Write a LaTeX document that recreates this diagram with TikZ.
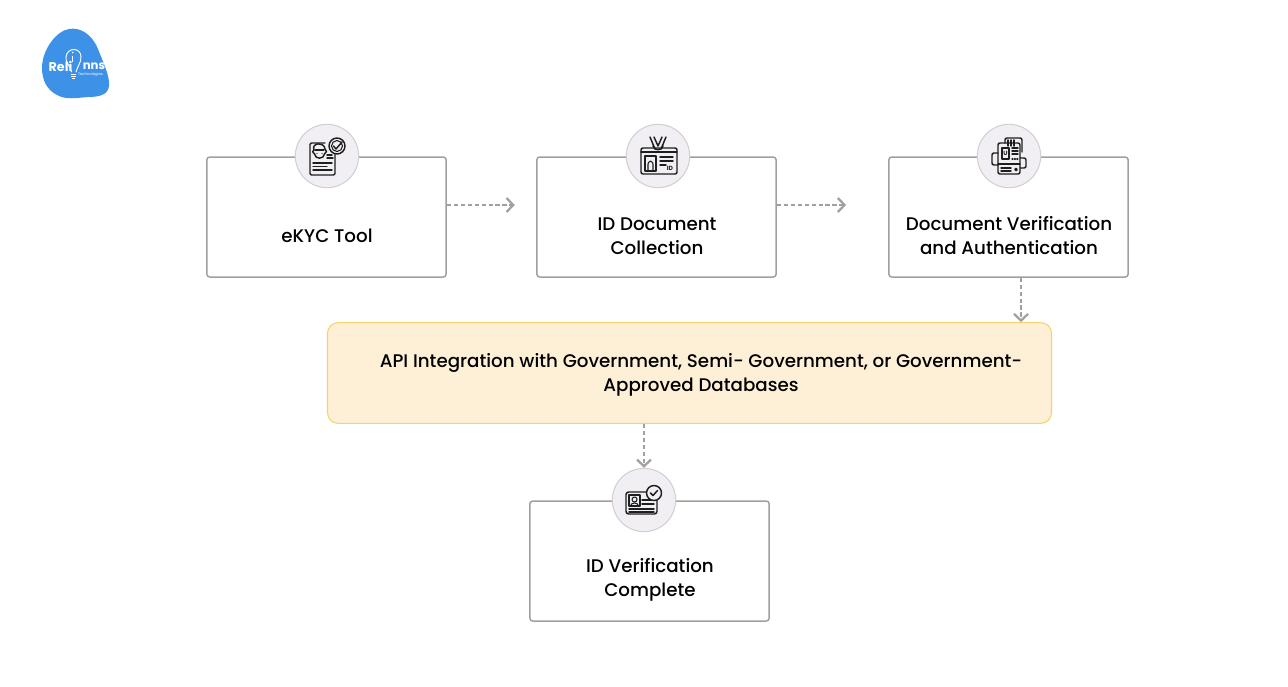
\documentclass[tikz,border=0pt]{standalone}
\usepackage{fontspec}
\setmainfont{Poppins Medium}
\newfontfamily\logofont{Poppins}
\usetikzlibrary{arrows.meta}
\definecolor{edge}{HTML}{A0A0A0}
\definecolor{ink}{HTML}{1E1E1E}
\definecolor{discfill}{HTML}{F1EFF3}
\definecolor{discline}{HTML}{D2D0D4}
\definecolor{apifill}{HTML}{FEF0D7}
\definecolor{apiline}{HTML}{F3D46A}
\definecolor{logoblue}{HTML}{3D92E8}
\tikzset{
 x=0.75pt,y=-0.75pt,
 stepbox/.style={draw=edge,line width=1.5pt*0.75,rounded corners=2.2pt,fill=white,minimum width=179.5pt,minimum height=90pt,inner sep=0pt},
 apibox/.style={draw=apiline,line width=0.8pt,rounded corners=8pt,fill=apifill,minimum width=543pt,minimum height=75.5pt,inner sep=0pt},
 disc/.style={circle,draw=discline,line width=0.8pt,fill=discfill,minimum size=47.5pt,inner sep=0pt},
 lbl/.style={align=center,font=\fontsize{13.7pt}{18pt}\selectfont,text=black,inner sep=0pt},
 flow/.style={draw=edge,line width=1.4pt,dash pattern=on 3.2pt off 2pt,-{Straight Barb[length=5pt,width=10.5pt,line width=1.7pt]}},
 ic/.style={draw=ink,line width=0.8pt,line cap=round,line join=round},
 icb/.style={draw=ink,line width=1.1pt,line cap=round,line join=round},
}
\begin{document}
\begin{tikzpicture}
\useasboundingbox (0,0) rectangle (1288,686);
% logo
\fill[logoblue] (69,29) .. controls (80,27) and (92,34) .. (98,49)
  .. controls (103,62) and (110,76) .. (109,86)
  .. controls (108,95) and (99,97) .. (88,97)
  .. controls (76,98) and (66,100) .. (57,95)
  .. controls (47,90) and (42,80) .. (42,68)
  .. controls (42,50) and (56,31) .. (69,29) -- cycle;
\node[text=white,font=\logofont\bfseries\fontsize{9.5pt}{10pt}\selectfont,inner sep=0pt] (lg1) at (60.5,66.5) {Reli};
\node[text=white,font=\logofont\bfseries\fontsize{8.8pt}{10pt}\selectfont,inner sep=0pt] (lg2) at (94,66.3) {nns};
\node[text=white,font=\logofont\fontsize{2.8pt}{3pt}\selectfont,inner sep=0pt] (lg3) at (90.5,75) {Technologies};
\draw[white,line width=0.7pt,line cap=round] (71.5,72) .. controls (71,66) and (65,63) .. (66,57) .. controls (67,47) and (81,47) .. (81,57) .. controls (81,63) and (78,65) .. (76,72);
\draw[white,line width=0.8pt] (71,74.5) -- (76,74.5) (71,76.5) -- (76,76.5) (72,78.5) -- (75,78.5);
\fill[white] (72.8,52.5) circle (0.9);
\draw[white,line width=0.8pt] (72.8,55.5) -- (72.8,62);
% boxes
\node[stepbox] (b1) at (326.5,217) {};
\node[stepbox] (b2) at (656.5,217) {};
\node[stepbox] (b3) at (1008.5,217) {};
\node[apibox] (api) at (689.5,373) {};
\node[stepbox] (b4) at (649.5,561) {};
% labels
\node[lbl] (t1) at (327,236) {eKYC Tool};
\node[lbl] (t2) at (657,236) {ID Document\\Collection};
\node[lbl] (t3) at (1009,236) {Document Verification\\and Authentication};
\node[lbl] (t4) at (701,375) {API Integration with Government, Semi- Government, or Government-\\Approved Databases};
\node[lbl] (t5) at (650,580) {ID Verification\\Complete};
% discs
\node[disc] (c1) at (327,156) {};
\node[disc] (c2) at (658,156) {};
\node[disc] (c3) at (1009,156) {};
\node[disc] (c4) at (644,500) {};
% connectors
\draw[flow,shorten >=16pt] ([yshift=9pt]b1.east) -- ([yshift=9pt]b2.west);
\draw[flow] ([yshift=9pt]b2.east) -- ([xshift=-31.5pt,yshift=9pt]b3.west);
\draw[flow] ([xshift=9.4pt]b3.south) -- ([xshift=9.4pt]b3.south |- api.north);
\draw[flow] (c4.north |- api.south) -- (c4.north);
% icon 1: eKYC
\begin{scope}[shift={(327,156)}]
 \draw[icb,rounded corners=1pt] (-2,-13) -- (-17,-13) -- (-17,19) -- (8,19) -- (8,-3);
 \draw[icb,fill=discfill] (-13,-6) .. controls (-16,-13) and (-3,-15) .. (-2,-7) .. controls (0,-6) and (0,-3) .. (-2.5,-2) .. controls (-3,3.5) and (-12,3.5) .. (-12.5,-2) .. controls (-15,-3) and (-15,-6) .. (-13,-6) -- cycle;
 \draw[ic] (-12,-6) -- (-3,-6);
 \fill[ink] (-10,-2.5) circle (0.7) (-5,-2.5) circle (0.7);
 \draw[icb] (0,2) -- (6,2) (0,-1) -- (5,-1);
 \draw[icb] (-14,7) -- (5,7) (-14,10.5) -- (0,10.5) (-14,14) -- (5,14);
 \draw[icb,fill=discfill] (10,-10) circle (8);
 \draw[ic] (10,-10) circle (5.5);
 \draw[icb] (6.5,-10) -- (9,-7) -- (15,-14);
\end{scope}
% icon 2: badge
\begin{scope}[shift={(658,156)}]
 \draw[icb,rounded corners=1.5pt] (-17,-8) rectangle (19,18);
 \draw[icb] (-17,-4) -- (19,-4);
 \draw[icb] (-8,-19) -- (-3,-7) (8,-19) -- (3,-7) (-4,-19) -- (0,-10) -- (4,-19);
 \draw[icb] (-5,-10) .. controls (-4,-5) and (4,-5) .. (5,-10);
 \draw[icb] (-13,0) rectangle (-2,15);
 \draw[ic] (-10,15) -- (-10,11) .. controls (-11,3) and (-4,3) .. (-5,11) -- (-5,15);
 \draw[icb] (2,1) -- (15,1) (2,5) -- (15,5) (2,9) -- (8,9);
 \node[font=\logofont\bfseries\fontsize{4.5pt}{5pt}\selectfont,text=ink,inner sep=0pt] (idt) at (12,12.5) {ID};
\end{scope}
% icon 3: documents
\begin{scope}[shift={(1009,156)}]
 \draw[icb,rounded corners=1.5pt] (-4,-13) -- (-4,-18) -- (13,-18) -- (13,-4);
 \draw[icb,rounded corners=1.5pt] (-11,-13) rectangle (11,18);
 \draw[icb] (-11,8) -- (11,8);
 \draw[icb] (-7,-8) rectangle (0,3);
 \node[font=\logofont\bfseries\fontsize{4.5pt}{5pt}\selectfont,text=ink,inner sep=0pt] (udt) at (-3.5,-2.5) {U};
 \draw[icb] (3,-8) -- (9,-8) (3,-5) -- (9,-5) (3,-2) -- (9,-2);
 \draw[ic,densely dotted] (3,3) -- (9,3);
 \draw[icb] (-8,12) -- (2,12) (-8,15) -- (2,15);
 \draw[icb] (7,13.5) circle (1.2);
 \draw[icb,rounded corners=1.5pt] (-11,-3) -- (-17,-3) -- (-17,9) -- (-11,9);
 \draw[icb,rounded corners=1.5pt] (11,2) -- (17,2) -- (17,12) -- (11,12);
 \draw[icb] (-1,-16) -- (-1,-10) (2,-16) -- (2,-10) (5,-16) -- (5,-10);
\end{scope}
% icon 4: id check
\begin{scope}[shift={(644,500)}]
 \draw[icb,rounded corners=2pt] (3,-8) -- (-18,-8) -- (-18,14) -- (13,14) -- (13,-2);
 \draw[icb] (-15,-5) rectangle (-4,6);
 \draw[ic] (-9.5,-0.5) circle (2.5);
 \draw[ic] (-13.5,6) .. controls (-13,2) and (-6,2) .. (-5.5,6);
 \draw[icb] (-2,0) -- (10,0) (-2,4) -- (10,4) (-15,9) -- (10,9) (-15,12) -- (10,12);
 \draw[icb,fill=discfill] (10,-7) circle (7.5);
 \draw[icb] (6.5,-7) -- (9,-4.5) -- (13.5,-9.5);
\end{scope}
\end{tikzpicture}
\end{document}
